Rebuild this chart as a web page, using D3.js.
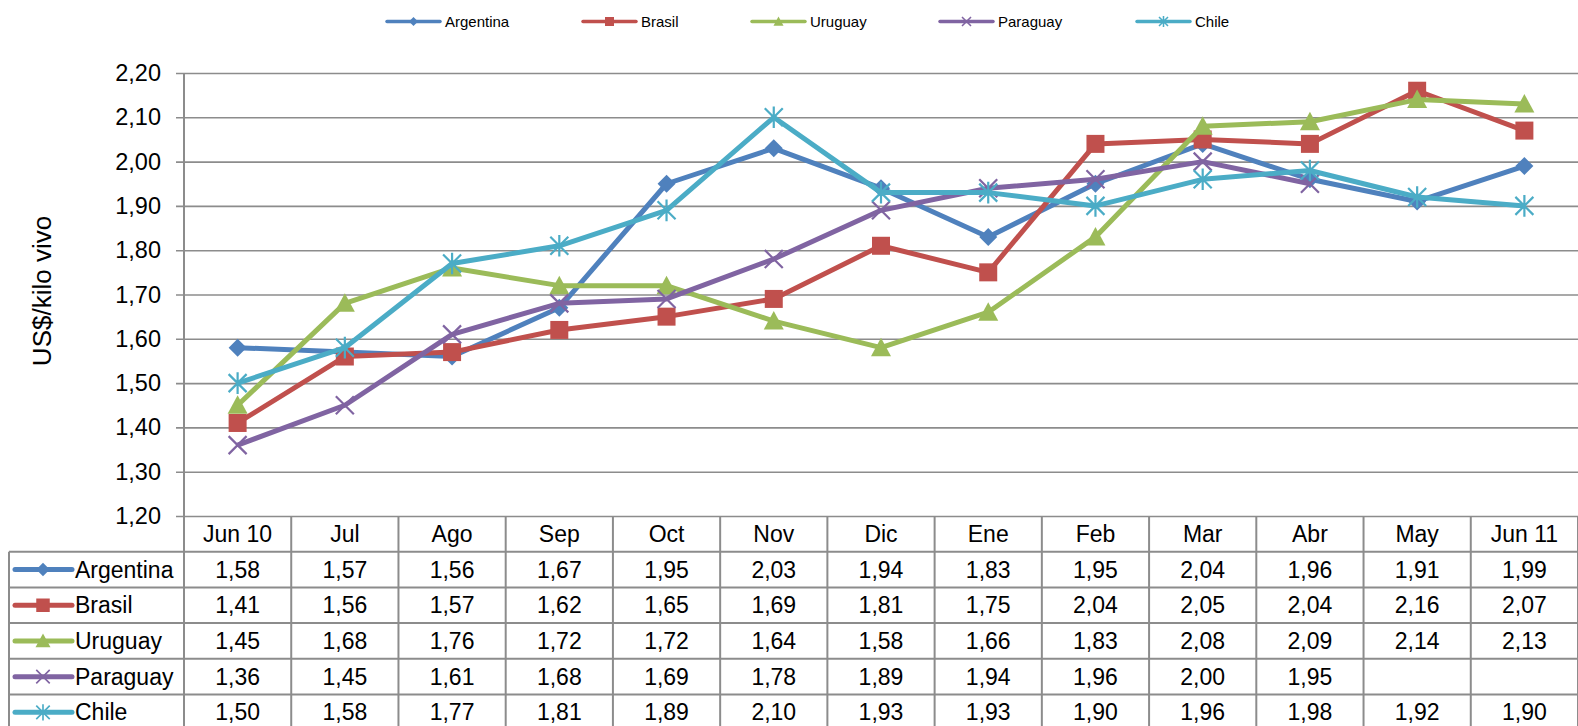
<!DOCTYPE html>
<html><head><meta charset="utf-8">
<script src="https://cdn.jsdelivr.net/npm/d3@7/dist/d3.min.js"></script>
<style>body{margin:0;background:#fff;} svg{display:block;font-family:"Liberation Sans",Arial,sans-serif;}</style>
</head><body><svg id="c" width="1578" height="726"></svg>
<script>
const categories = ["Jun 10","Jul","Ago","Sep","Oct","Nov","Dic","Ene","Feb","Mar","Abr","May","Jun 11"];
const seriesNames = ["Argentina","Brasil","Uruguay","Paraguay","Chile"];
const argentina = [1.58,1.57,1.56,1.67,1.95,2.03,1.94,1.83,1.95,2.04,1.96,1.91,1.99];
const brasil    = [1.41,1.56,1.57,1.62,1.65,1.69,1.81,1.75,2.04,2.05,2.04,2.16,2.07];
const uruguay   = [1.45,1.68,1.76,1.72,1.72,1.64,1.58,1.66,1.83,2.08,2.09,2.14,2.13];
const paraguay  = [1.36,1.45,1.61,1.68,1.69,1.78,1.89,1.94,1.96,2.00,1.95,null,null];
const chile     = [1.50,1.58,1.77,1.81,1.89,2.10,1.93,1.93,1.90,1.96,1.98,1.92,1.90];
const yTicks = [1.2,1.3,1.4,1.5,1.6,1.7,1.8,1.9,2.0,2.1,2.2];
const colors = ["#4F81BD","#C0504D","#9BBB59","#8064A2","#4BACC6"];
const markers = ["diamond","square","triangle","x","star"];
const yTitle = "US$/kilo vivo";

const values = [argentina,brasil,uruguay,paraguay,chile];
const svg = d3.select("#c");
const L = 184, R = 1578, T = 73, B = 516;
const x = d3.scaleBand().domain(categories).range([L,R]);
const y = d3.scaleLinear().domain([1.2,2.2]).range([B,T]);
const fmt = v => d3.format(".2f")(v).replace(".",",");
const grid = "#8c8c8c";
const FS = 23;

// gridlines + y axis
const ya = svg.append("g").attr("transform",`translate(${L},0)`)
  .call(d3.axisLeft(y).tickValues(yTicks).tickFormat(fmt).tickSizeInner(-(R-L)).tickSizeOuter(0).tickPadding(23));
ya.select(".domain").remove();
ya.selectAll(".tick line").attr("stroke",grid).attr("stroke-width",1.6).attr("x1",-8);
ya.selectAll(".tick text").attr("font-size",23.5).attr("fill","#000").attr("font-family","Liberation Sans, Arial, sans-serif");
svg.append("line").attr("x1",L).attr("x2",L).attr("y1",T).attr("y2",B).attr("stroke",grid).attr("stroke-width",2);

// y title
svg.append("text").attr("transform",`translate(51,291) rotate(-90)`).attr("text-anchor","middle")
  .attr("font-size",26).text(yTitle);

// marker paths
function markerPath(type, s){
  const h = s/2;
  switch(type){
    case "diamond": return `M0,${-h}L${h},0L0,${h}L${-h},0Z`;
    case "square": return `M${-h},${-h}H${h}V${h}H${-h}Z`;
    case "triangle": return `M0,${-h}L${h},${h*0.85}L${-h},${h*0.85}Z`;
    case "x": return `M${-h},${-h}L${h},${h}M${-h},${h}L${h},${-h}`;
    case "star": return `M${-h},${-h}L${h},${h}M${-h},${h}L${h},${-h}M0,${-h*1.2}V${h*1.2}`;
  }
}
const markerSize = {diamond:18,square:18,triangle:20,x:18,star:18};
function drawMarker(g, type, color, cx, cy, scale){
  const s = markerSize[type]*scale;
  const p = g.append("path").attr("d",markerPath(type,s)).attr("transform",`translate(${cx},${cy})`);
  if(type==="x"||type==="star") p.attr("fill","none").attr("stroke",color).attr("stroke-width",2.2*Math.max(scale,0.7));
  else p.attr("fill",color).attr("stroke","none");
}

// series lines
const cx = c => x(c)+x.bandwidth()/2;
const line = d3.line().defined(d=>d.v!=null).x(d=>cx(d.c)).y(d=>y(d.v));
const plot = svg.append("g");
values.forEach((vals,i)=>{
  const data = vals.map((v,j)=>({c:categories[j],v}));
  plot.append("path").datum(data).attr("d",line).attr("fill","none").attr("stroke",colors[i])
    .attr("stroke-width",5).attr("stroke-linejoin","round");
  data.filter(d=>d.v!=null).forEach(d=>drawMarker(plot,markers[i],colors[i],cx(d.c),y(d.v),1));
});

// data table
const rowH = 35.7;
const tb = svg.append("g");
const tableLeft = 9;
const nRows = seriesNames.length;
categories.forEach(c=>{
  tb.append("text").attr("x",cx(c)).attr("y",B+rowH/2+8).attr("text-anchor","middle").attr("font-size",FS).text(c);
});
categories.forEach((c,j)=>{
  tb.append("line").attr("x1",x(c)+x.bandwidth()).attr("x2",x(c)+x.bandwidth()).attr("y1",B).attr("y2",B+rowH*(nRows+1))
    .attr("stroke",grid).attr("stroke-width",2);
});
tb.append("line").attr("x1",L).attr("x2",L).attr("y1",B).attr("y2",B+rowH*(nRows+1)).attr("stroke",grid).attr("stroke-width",2);
tb.append("line").attr("x1",tableLeft).attr("x2",tableLeft).attr("y1",B+rowH).attr("y2",B+rowH*(nRows+1)).attr("stroke",grid).attr("stroke-width",2);
for(let r=1;r<=nRows+1;r++){
  tb.append("line").attr("x1",tableLeft).attr("x2",R).attr("y1",B+rowH*r).attr("y2",B+rowH*r).attr("stroke",grid).attr("stroke-width",2);
}
seriesNames.forEach((name,i)=>{
  const yc = B+rowH*(i+1)+rowH/2;
  tb.append("line").attr("x1",15).attr("x2",72).attr("y1",yc).attr("y2",yc).attr("stroke",colors[i]).attr("stroke-width",5).attr("stroke-linecap","round");
  drawMarker(tb,markers[i],colors[i],43,yc,0.75);
  tb.append("text").attr("x",75).attr("y",yc+8).attr("font-size",FS).text(name);
  values[i].forEach((v,j)=>{
    if(v==null) return;
    tb.append("text").attr("x",cx(categories[j])).attr("y",yc+8).attr("text-anchor","middle").attr("font-size",FS).text(fmt(v));
  });
});

// legend
const legX = [387,583,752,940,1137];
const lg = svg.append("g");
seriesNames.forEach((name,i)=>{
  const lx = legX[i], ly = 21.5;
  lg.append("line").attr("x1",lx).attr("x2",lx+53).attr("y1",ly).attr("y2",ly).attr("stroke",colors[i]).attr("stroke-width",3.5).attr("stroke-linecap","round");
  drawMarker(lg,markers[i],colors[i],lx+26.5,ly,0.5);
  lg.append("text").attr("x",lx+58).attr("y",ly+5.5).attr("font-size",15).text(name);
});
</script></body></html>
